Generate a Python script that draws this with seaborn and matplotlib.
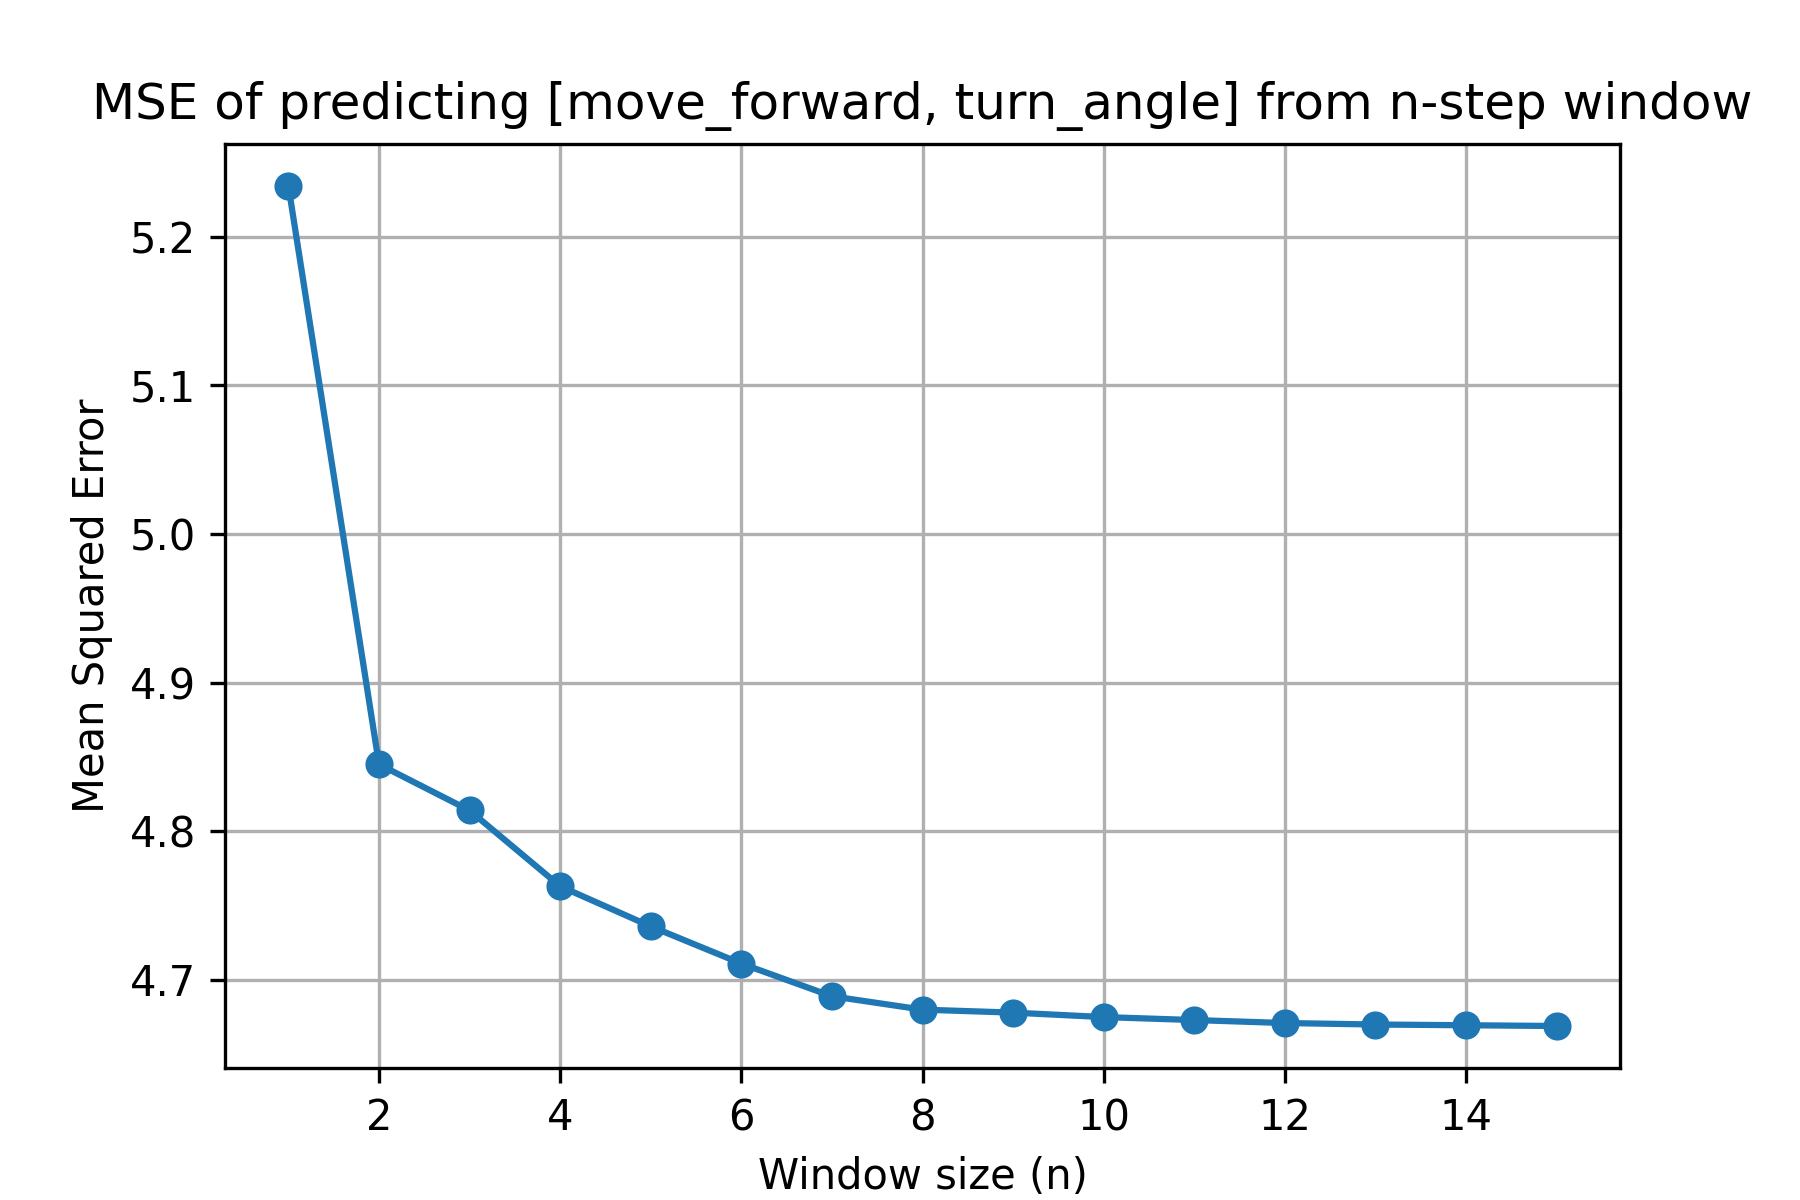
import pandas as pd
import seaborn as sns
import matplotlib
matplotlib.use("Agg")
import matplotlib.pyplot as plt

window_sizes = [1, 2, 3, 4, 5, 6, 7, 8, 9, 10, 11, 12, 13, 14, 15]
mse_values = [5.234, 4.845, 4.814, 4.763, 4.736, 4.711, 4.689, 4.680, 4.678,
              4.675, 4.673, 4.671, 4.670, 4.6695, 4.669]

df = pd.DataFrame({"n": window_sizes, "mse": mse_values})

fig, ax = plt.subplots(figsize=(6, 4), dpi=300)
fig.subplots_adjust(left=0.125, right=0.9, bottom=0.11, top=0.88)
sns.lineplot(x="n", y="mse", data=df, ax=ax, marker="o", color="#1f77b4",
             markersize=6, markeredgecolor="#1f77b4", linewidth=1.5)
ax.set_title("MSE of predicting [move_forward, turn_angle] from n-step window")
ax.set_xlabel("Window size (n)")
ax.set_ylabel("Mean Squared Error")
ax.grid(True)

fig.savefig("out.png", dpi=300)
